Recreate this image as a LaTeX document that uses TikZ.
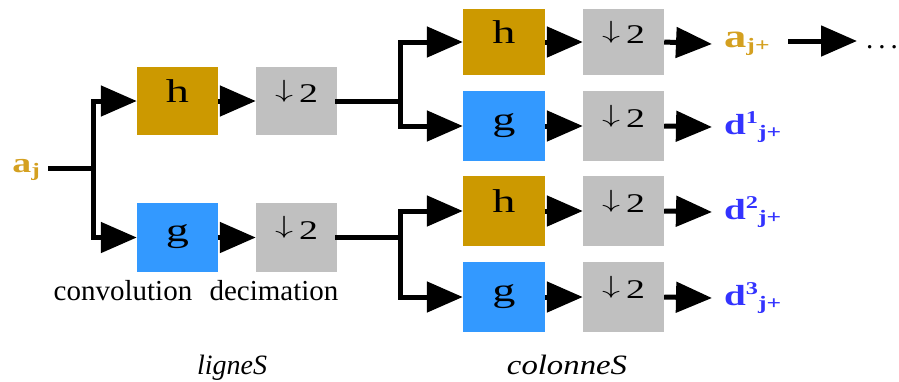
\documentclass[tikz,border=0pt]{standalone}
\usepackage{fontspec}
\setmainfont{Liberation Serif}
\newfontfamily\widefont[FakeStretch=1.4]{Liberation Serif}
\newfontfamily\lblfont[FakeStretch=1.35]{Liberation Serif}
\usetikzlibrary{arrows.meta}
\definecolor{goldbox}{HTML}{CC9900}
\definecolor{bluebox}{HTML}{3399FF}
\definecolor{graybox}{HTML}{C0C0C0}
\definecolor{goldtxt}{HTML}{D4A020}
\definecolor{bluetxt}{HTML}{3333FF}
\tikzset{
  box/.style={draw=none, minimum width=81pt, minimum height=68pt, inner sep=0pt,
    text height=3pt, text depth=0pt, font=\widefont\fontsize{33}{33}\selectfont},
  hbox/.style={box, fill=goldbox},
  gbox/.style={box, fill=bluebox, text height=8pt},
  dbox/.style={box, fill=graybox, text height=3pt, font=\widefont\fontsize{27}{27}\selectfont},
  wire/.style={line width=5pt, line cap=rect, line join=miter},
  arr/.style={line width=5pt, -{Triangle[length=36pt,width=30pt]}},
  outlbl/.style={anchor=west, inner xsep=12pt, inner ysep=0pt, font=\lblfont\fontsize{29}{29}\selectfont\bfseries},
  plain/.style={font=\fontsize{29}{29}\selectfont, inner sep=0pt, anchor=base},
}
\newcommand{\sbs}[1]{\raisebox{-0.13em}{\fontsize{19}{19}\selectfont #1}}
\newcommand{\sps}[1]{\raisebox{0.38em}{\fontsize{18}{18}\selectfont #1}}
\newcommand{\dtwo}{\raisebox{0.19em}{\scalebox{1.45}[1]{\fontsize{23}{23}\selectfont$\downarrow$}}\kern6pt 2}
\begin{document}
\begin{tikzpicture}[x=1pt,y=-1pt]
\useasboundingbox (0,0) rectangle (899,381);
% labels
\node[anchor=east, inner sep=0pt, font=\lblfont\fontsize{28}{28}\selectfont\bfseries, text=goldtxt] (aj) at (40,170) {a\sbs{j}};
\coordinate (s0) at (50,168);
\coordinate (j1) at (93,168);
% first stage
\node[hbox] (h1) at (177.5,101) {h};
\node[dbox] (d1) at (296.5,101) {\dtwo};
\node[gbox, minimum height=69pt] (g1) at (177.5,237.5) {g};
\node[dbox, minimum height=69pt] (d2) at (296.5,237.5) {\dtwo};
% second stage
\coordinate (j2) at (400,101);
\coordinate (j3) at (400,237.5);
\node[hbox, minimum width=82pt, minimum height=66pt] (h2) at (504,42) {h};
\node[dbox, minimum width=81pt, minimum height=66pt] (d3) at (623.5,42) {\dtwo};
\node[gbox, minimum width=82pt, minimum height=70pt] (g2) at (504,126) {g};
\node[dbox, minimum width=81pt, minimum height=70pt] (d4) at (623.5,126) {\dtwo};
\node[hbox, minimum width=82pt, minimum height=70pt] (h3) at (504,211) {h};
\node[dbox, minimum width=81pt, minimum height=70pt] (d5) at (623.5,211) {\dtwo};
\node[gbox, minimum width=82pt, minimum height=70pt] (g3) at (504,297) {g};
\node[dbox, minimum width=81pt, minimum height=70pt] (d6) at (623.5,297) {\dtwo};
% outputs
\node[outlbl, text=goldtxt, font=\lblfont\fontsize{33}{33}\selectfont\bfseries] (o1) at (712,44) {a\sbs{j+}};
\node[outlbl, text=bluetxt] (o2) at (712,127) {d\sps{1}\sbs{j+}};
\node[outlbl, text=bluetxt] (o3) at (712,212) {d\sps{2}\sbs{j+}};
\node[outlbl, text=bluetxt] (o4) at (712,298) {d\sps{3}\sbs{j+}};
\coordinate (c1) at (788,41);
\node[anchor=base west, inner xsep=9pt, inner ysep=0pt, font=\fontsize{29}{29}\selectfont] (dots) at (857,48) {.\kern5pt.\kern5pt.};
% bottom texts
\node[plain] (conv) at (123,300) {convolution};
\node[plain] (deci) at (274,300) {decimation};
\node[plain, font=\fontsize{28}{28}\selectfont\itshape] (lig) at (232,374) {ligneS};
\node[plain, font=\fontsize{28}{28}\selectfont\itshape] (col) at (567,374) {\scalebox{1.17}[1]{colonneS}};
% wires stage 1
\draw[wire] (s0) -- (j1);
\draw[wire] (j1 |- h1) -- (j1 |- g1);
\draw[arr] (j1 |- h1) -- (h1.west);
\draw[arr] (j1 |- g1) -- (g1.west);
\draw[arr] (h1.east) -- (d1.west);
\draw[arr] (g1.east) -- (d2.west);
% wires stage 2
\draw[wire] (d1.east) -- (j2);
\draw[wire] (d2.east) -- (j3);
\draw[wire] (j2 |- h2) -- (j2 |- g2);
\draw[wire] (j3 |- h3) -- (j3 |- g3);
\draw[arr] (j2 |- h2) -- (h2.west);
\draw[arr] (j2 |- g2) -- (g2.west);
\draw[arr] (j3 |- h3) -- (h3.west);
\draw[arr] (j3 |- g3) -- (g3.west);
\draw[arr] (h2.east) -- (d3.west);
\draw[arr] (g2.east) -- (d4.west);
\draw[arr] (h3.east) -- (d5.west);
\draw[arr] (g3.east) -- (d6.west);
\draw[arr] (d3.east) -- (o1.west);
\draw[arr] (d4.east) -- (o2.west);
\draw[arr] (d5.east) -- (o3.west);
\draw[arr] (d6.east) -- (o4.west);
\draw[arr] (c1) -- (dots.west |- c1);
\end{tikzpicture}
\end{document}
